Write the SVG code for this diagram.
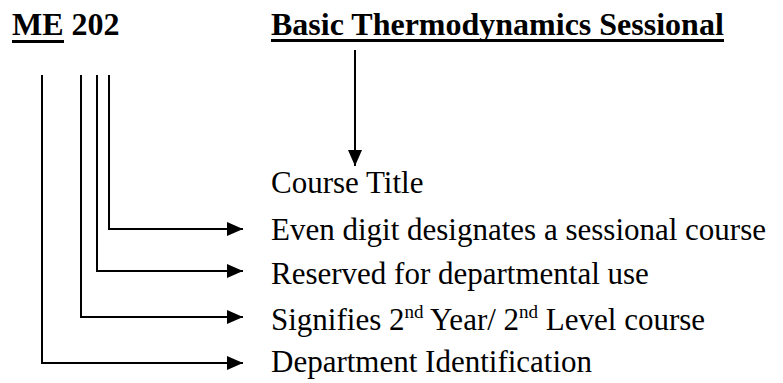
<svg xmlns="http://www.w3.org/2000/svg" width="783" height="383" viewBox="0 0 783 383">
<style>
.h{font-family:"Liberation Serif","Times New Roman",serif;font-weight:bold;font-size:32px;fill:#000}
.t{font-family:"Liberation Serif","Times New Roman",serif;font-size:31px;fill:#000}
.s{font-size:19px}
.c{stroke:#000;stroke-width:2;fill:none}
</style>
<defs>
<marker id="ah" markerWidth="18" markerHeight="16" refX="16" refY="7" orient="auto" markerUnits="userSpaceOnUse">
<path d="M0,0 L16,7 L0,14 Z" fill="#000"/>
</marker>
</defs>
<rect width="783" height="383" fill="#fff"/>
<g id="code">
<text class="h" x="12" y="35">ME 202</text>
<rect x="12" y="40" width="52" height="3" fill="#000"/>
</g>
<g id="title">
<text class="h" x="271" y="35">Basic Thermodynamics Sessional</text>
<rect x="271" y="39" width="453" height="3" fill="#000"/>
</g>
<g id="labels">
<text class="t" x="271" y="193">Course Title</text>
<text class="t" x="271" y="240">Even digit designates a sessional course</text>
<text class="t" x="271" y="284">Reserved for departmental use</text>
<text class="t" x="271" y="330">Signifies 2<tspan class="s" dy="-12">nd</tspan><tspan dy="12"> Year/ 2</tspan><tspan class="s" dy="-12">nd</tspan><tspan dy="12"> Level course</tspan></text>
<text class="t" x="271" y="372">Department Identification</text>
</g>
<g id="connectors">
<path class="c" d="M355,50 V166" marker-end="url(#ah)"/>
<path class="c" d="M109,75 V229 H243" marker-end="url(#ah)"/>
<path class="c" d="M97,75 V271 H243" marker-end="url(#ah)"/>
<path class="c" d="M81,75 V317 H243" marker-end="url(#ah)"/>
<path class="c" d="M42,75 V363 H243" marker-end="url(#ah)"/>
</g>
</svg>
